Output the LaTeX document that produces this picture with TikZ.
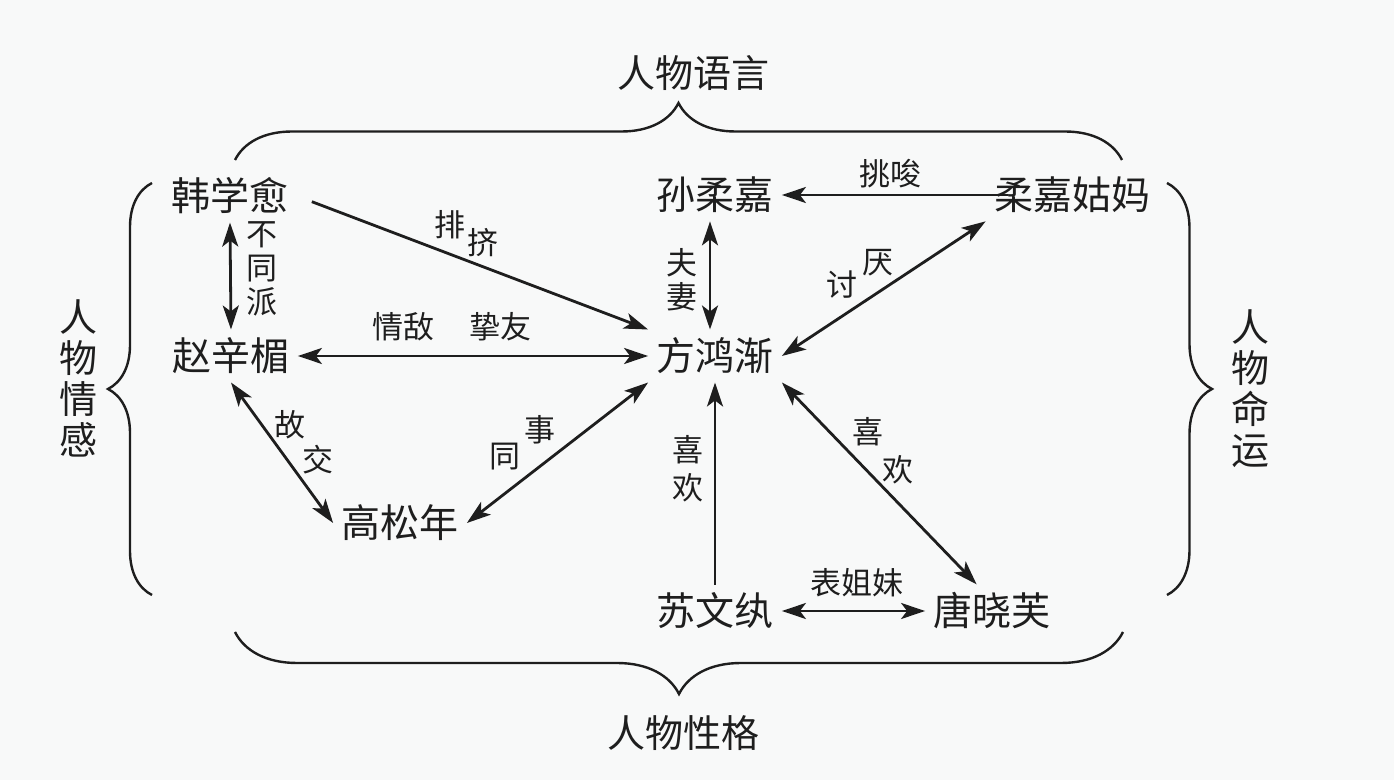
\documentclass[tikz,border=0pt]{standalone}
\usepackage{fontspec}
\setmainfont{Noto Sans CJK SC}
\definecolor{mapInk}{HTML}{1E1E1E}
\definecolor{mapPaper}{HTML}{F8F9F9}
\usetikzlibrary{arrows.meta, decorations.pathreplacing}

\begin{document}
\begin{tikzpicture}[x=0.5pt, y=-0.5pt,
    >={Stealth[length=12pt, width=8pt, inset=3pt]},
    person/.style={inner sep=4pt, font=\fontsize{19.5}{20}\selectfont, text=mapInk},
    tag/.style={inner sep=0pt, font=\fontsize{15.5}{17}\selectfont, text=mapInk, align=center},
    theme/.style={inner sep=0pt, font=\fontsize{19}{20.5}\selectfont, text=mapInk, align=center},
    rel/.style={draw=mapInk, line width=1.4pt, ->},
    mutual/.style={draw=mapInk, line width=1.4pt, <->},
    bundle/.style={draw=mapInk, line width=1.2pt, decorate, decoration={brace, amplitude=#1}}]
        % Paper
        \fill[mapPaper] (0,0) rectangle (1394,780);

        % Characters
        \node[person] (han) at (230,196) {韩学愈};
        \node[person] (zhao) at (231,356) {赵辛楣};
        \node[person] (sun) at (715,195) {孙柔嘉};
        \node[person] (gu) at (1072,195) {柔嘉姑妈};
        \node[person] (fang) at (715,356) {方鸿渐};
        \node[person] (gao) at (400,523) {高松年};
        \node[person] (su) at (715,611) {苏文纨};
        \node[person] (tang) at (992,611) {唐晓芙};

        % Relations
        \draw[mutual] (han.south) -- (zhao.north);
        \draw[rel, shorten <=8pt] (han.east) -- (fang.north west);
        \draw[mutual] (zhao.east) -- (fang.west);
        \draw[mutual] (zhao.south) -- (gao.west);
        \draw[mutual] (gao.east) -- (fang.south west);
        \draw[rel] (su.north) -- (fang.south);
        \draw[mutual] (fang.south east) -- (tang.120);
        \draw[mutual] (su.east) -- (tang.west);
        \draw[mutual] ([xshift=-2.5pt]sun.south) -- ([xshift=-2.5pt]fang.north);
        \draw[rel, shorten <=-11pt] (gu.west) -- (sun.east);
        \draw[mutual] (fang.east) -- (gu.south west);

        % Relation labels
        \node[tag] (tBtp) at (262,269) {不\\同\\派};
        \node[tag] (tPai) at (450,225) {排};
        \node[tag] (tJi) at (483,243) {挤};
        \node[tag] (tQd) at (403,327) {情敌};
        \node[tag] (tZy) at (500,327) {挚友};
        \node[tag] (tFq) at (682,280) {夫\\妻};
        \node[tag] (tTs) at (890,174) {挑唆};
        \node[tag] (tTao) at (842,285) {讨};
        \node[tag] (tYan) at (878,263) {厌};
        \node[tag] (tGu) at (290,425) {故};
        \node[tag] (tJiao) at (318,460) {交};
        \node[tag] (tTong) at (505,457) {同};
        \node[tag] (tShi) at (540,430) {事};
        \node[tag, font=\fontsize{15.5}{19}\selectfont] (tXh) at (688,469) {喜\\欢};
        \node[tag] (tXi) at (868,432) {喜};
        \node[tag] (tHuan) at (898,470) {欢};
        \node[tag] (tBjm) at (857,583) {表姐妹};

        % Braces
        \draw[bundle=28.5pt] (235,160) -- (1122,160);
        \draw[bundle=31pt] (1123,632) -- (235,632);
        \draw[bundle=22pt] (152,595) -- (152,183);
        \draw[bundle=22.5pt] (1167,183) -- (1167,595);
        \node[theme] (yuyan) at (693,73) {人物语言};
        \node[theme] (xingge) at (683,733) {人物性格};
        \node[theme] (qinggan) at (78,378) {人\\物\\情\\感};
        \node[theme] (mingyun) at (1250,389) {人\\物\\命\\运};
    \end{tikzpicture}
\end{document}
